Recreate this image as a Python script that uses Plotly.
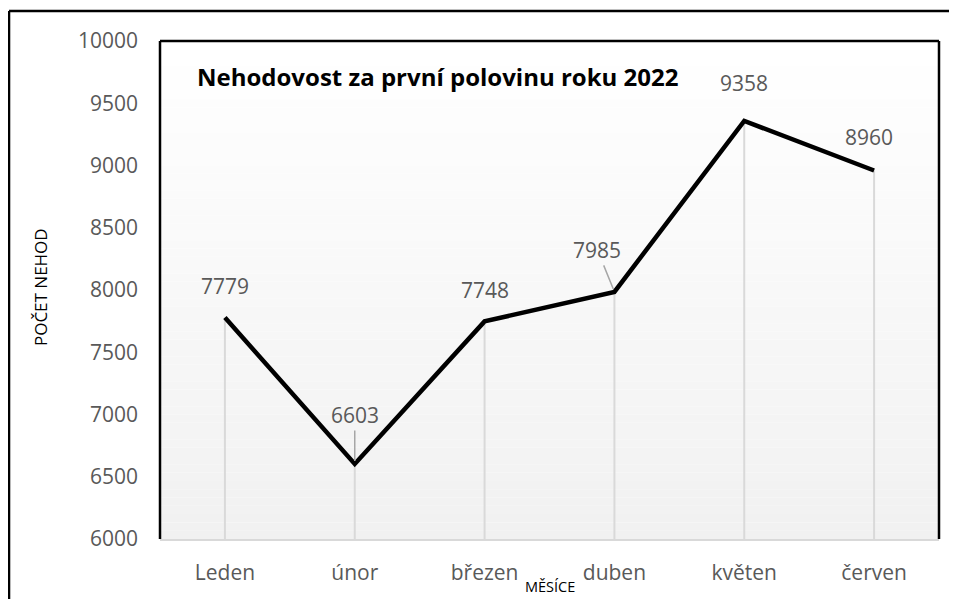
import plotly.graph_objects as go

months = ["Leden", "únor", "březen", "duben", "květen", "červen"]
accidents = [7779, 6603, 7748, 7985, 9358, 8960]
y_ticks = [6000, 6500, 7000, 7500, 8000, 8500, 9000, 9500, 10000]

Y_MIN, Y_MAX = 6000, 10000
FONT = "Open Sans, Noto Sans, sans-serif"
GRAY = "#595959"

# label offsets in pixels (ax, ay, leader line?)
label_style = [(0, -32, False), (0, -49, True), (0, -31, False),
               (-17, -42, True), (0, -38, False), (-5, -33, False)]

fig = go.Figure()

# drop lines from each point to the axis
fig.add_trace(go.Scatter(
    x=months, y=accidents, mode="markers",
    marker=dict(size=0.1, color="rgba(0,0,0,0)"),
    error_y=dict(type="data", symmetric=False, array=[0] * len(accidents),
                 arrayminus=[v - Y_MIN for v in accidents],
                 color="#d9d9d9", thickness=2, width=0),
    hoverinfo="skip", showlegend=False))

fig.add_trace(go.Scatter(
    x=months, y=accidents, mode="lines",
    line=dict(color="black", width=4.5),
    showlegend=False))

annotations = []
for m, v, (ax, ay, leader) in zip(months, accidents, label_style):
    annotations.append(dict(
        x=m, y=v, xref="x", yref="y", text=str(v), showarrow=True,
        ax=ax, ay=ay, arrowhead=0, arrowwidth=1.5, standoff=3,
        arrowcolor="#a6a6a6" if leader else "rgba(0,0,0,0)",
        font=dict(family=FONT, size=21, color=GRAY)))

annotations += [
    dict(text="<b>Nehodovost za první polovinu roku 2022</b>", xref="paper", yref="paper",
         x=0.0449, y=0.929, xanchor="left", yanchor="middle", showarrow=False,
         font=dict(family=FONT, size=24, color="black")),
    dict(text="POČET NEHOD", xref="paper", yref="paper", x=-0.154, y=0.506,
         xanchor="center", yanchor="middle", textangle=-90, showarrow=False,
         font=dict(family=FONT, size=17, color="black")),
    dict(text="MĚSÍCE", xref="paper", yref="paper", x=0.5, y=-0.096,
         xanchor="center", yanchor="middle", showarrow=False,
         font=dict(family=FONT, size=14.5, color="black")),
]

# gradient background of the plot area
shapes = []
N = 60
for i in range(N):
    t = i / (N - 1)
    c = int(round(255 - (255 - 241) * (1 - t)))
    shapes.append(dict(type="rect", xref="x domain", yref="y domain",
                       x0=0, x1=1, y0=i / N, y1=(i + 1) / N,
                       fillcolor=f"rgb({c},{c},{c})", line=dict(width=0),
                       layer="below"))

# plot-area frame: left, top, right in black
for x0, y0, x1, y1 in [(0, 0, 0, 1), (0, 1, 1, 1), (1, 0, 1, 1)]:
    shapes.append(dict(type="line", xref="x domain", yref="y domain",
                       x0=x0, y0=y0, x1=x1, y1=y1,
                       line=dict(color="black", width=2.5)))

# outer chart frame (top and left visible)
shapes.append(dict(type="line", xref="paper", yref="paper",
                   x0=-0.1938, y0=1.0602, x1=1.2, y1=1.0602,
                   line=dict(color="black", width=2.5)))
shapes.append(dict(type="line", xref="paper", yref="paper",
                   x0=-0.1938, y0=1.0602, x1=-0.1938, y1=-0.3,
                   line=dict(color="black", width=2.5)))

fig.update_layout(
    width=949, height=591,
    margin=dict(l=152, r=18, t=33, b=60),
    paper_bgcolor="white", plot_bgcolor="white",
    annotations=annotations, shapes=shapes,
    xaxis=dict(type="category", range=[-0.5, len(months) - 0.5],
               showgrid=False, showline=True, linecolor="#d9d9d9", linewidth=2,
               ticks="", ticklabelstandoff=14,
               tickfont=dict(family=FONT, size=21, color=GRAY)),
    yaxis=dict(range=[Y_MIN, Y_MAX], tickvals=y_ticks,
               ticktext=[str(t) for t in y_ticks],
               showgrid=False, zeroline=False, showline=False, ticks="",
               ticklabelstandoff=21,
               tickfont=dict(family=FONT, size=21, color=GRAY)),
)

fig.write_html("out.html")
